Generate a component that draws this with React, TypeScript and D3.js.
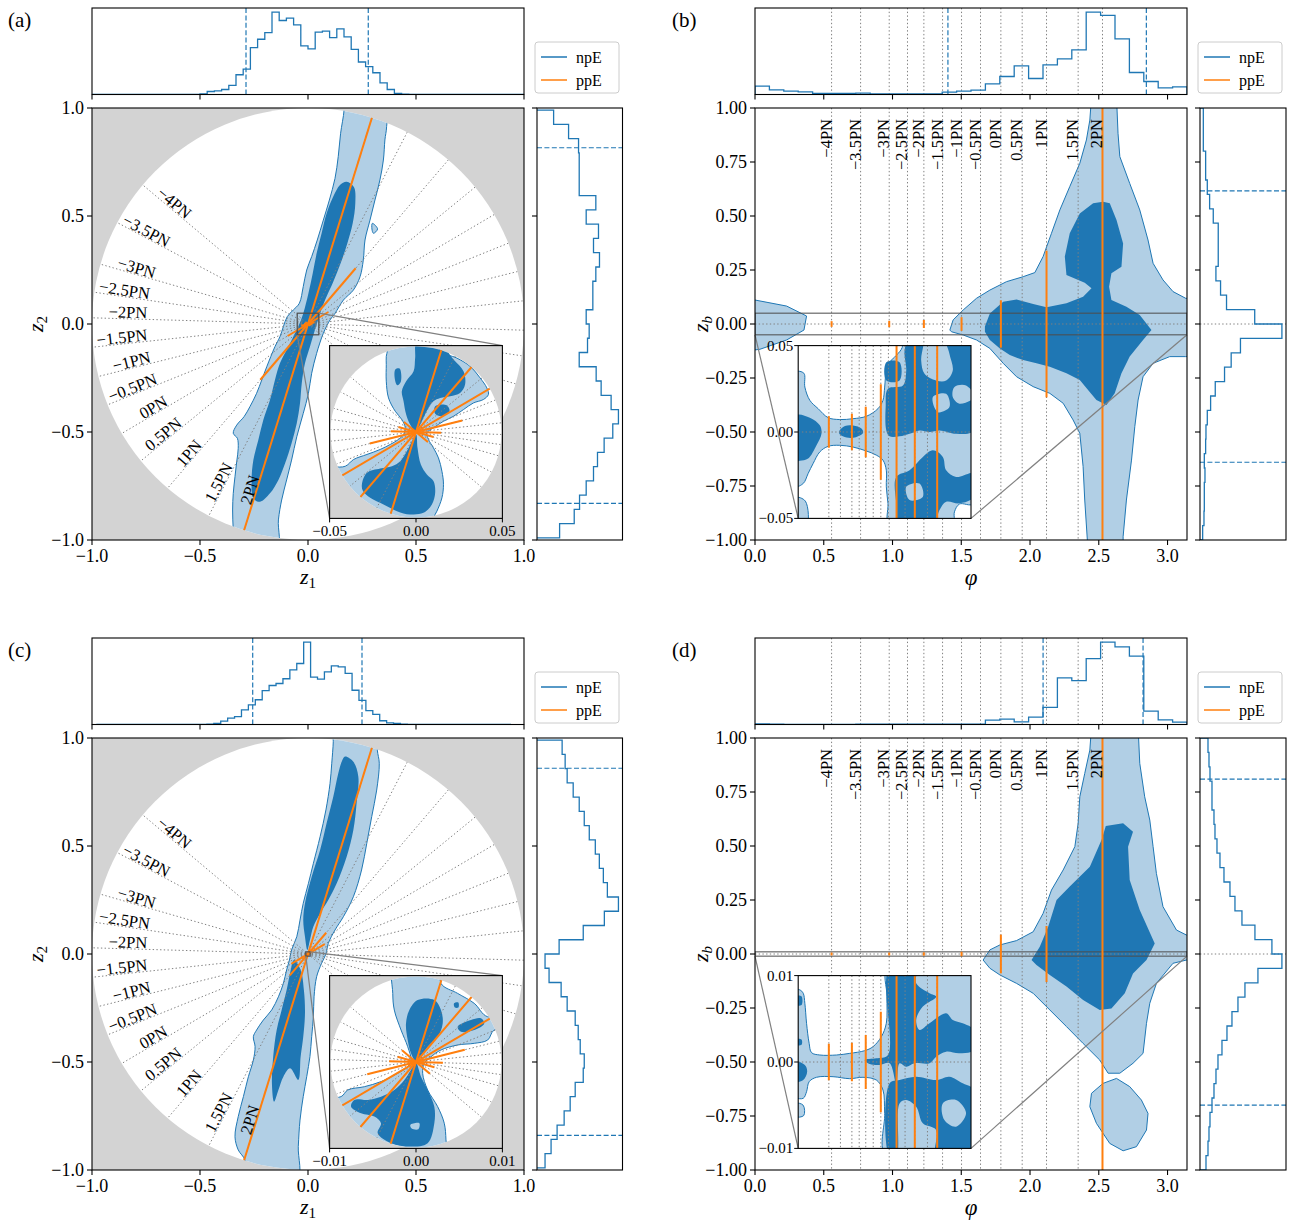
import React from "react";
import * as d3 from "d3";

const FONT = "'Liberation Serif','Times New Roman','DejaVu Serif',serif";
const BLUE = "#1f77b4";
const LIGHT_BLUE = "#b1cfe5";
const ORANGE = "#ff7f0e";
const GREY_BG = "#d3d3d3";
const DOTC = "#808080";
const DOTS = "1.4,2.3";
const TICK_FS = 18;
const PN_FS = 16.5;

// Post-Newtonian orders and their phase on the φ axis
const pnLabels = ["−4PN", "−3.5PN", "−3PN", "−2.5PN", "−2PN", "−1.5PN", "−1PN", "−0.5PN", "0PN", "0.5PN", "1PN", "1.5PN", "2PN"];
const pnPhi = [0.557, 0.768, 0.976, 1.109, 1.228, 1.364, 1.502, 1.64, 1.788, 1.943, 2.12, 2.35, 2.527];
// ppE deviations: integer orders and the half-width of each segment
const ppeOrders = [-4, -3, -2, -1, 0, 1, 2];
const ppeHalfTop = [0.0085, 0.01, 0.014, 0.027, 0.105, 0.335, 1.0];
const ppeHalfBottom = [0.002, 0.0021, 0.003, 0.0057, 0.085, 0.125, 1.0];
// rotation between φ and the polar angle in the (z1, z2) plane
const phaseOffset = 0.6 * Math.PI;

// marginal histograms (bin counts, arbitrary units)
const histAz1 = [0,0,0,0,0,0,0,0,0,0,0,0,0,0,0, 2,9,11,15,27,59,76,140,165,185,246,221,228,208,145,136,186,189,170,196,172,135,97,83,65,35,15,3,1, 0,0,0,0,0,0,0,0,0,0,0,0,0,0,0,0];
const rangeAz1 = [-1, 1];
const histAz2 = [68,112,128,148,170,182,202,228,245,223,193,178,127,152,157,148,168,168,177,188,170,185,148,177,127,127,127,125,95,50];
const rangeAz2 = [-0.99, 0.99];
const histBphi = [25,14,10,8,3,3,3,4,2,2,2,2,2,7,10,13,32,54,86,48,89,107,134,247,237,167,66,39,20,23];
const histBzb = [8,12,13,13,15,13,17,18,22,32,46,74,94,122,247,165,80,62,48,55,55,55,40,29,22,17,17,10,10,10];
const histCz1 = [0,0,0,0,0,0,0,0,0,0,0,0,0,0,0,0, 1,3,10,19,23,43,58,73,100,115,121,135,161,180,243,140,134,155,173,170,151,101,71,41,30,11,5,3,1, 0,0,0,0,0,0,0,0,0,0,0,0,0,0,0];
const rangeCz1 = [-0.98, 0.94];
const histCz2 = [8,14,20,27,33,38,46,47,43,41,38,30,24,12,8,22,46,67,81,70,66,62,58,52,47,42,36,30,28,25];
const rangeCz2 = [-0.99, 0.99];
const histDphi = [2,1,0,0,0,0,0,1,1,1,1,1,1,1,1,1,13,16,8,22,51,139,131,197,246,232,204,40,14,7];
const histDzb = [6,8,9,10,12,14,16,18,22,27,32,38,45,58,82,72,55,42,35,30,24,20,17,15,14,12,12,10,9,8];
const rangePhi = [0, Math.PI];
const rangeZb = [-1, 1];

// 90% credible intervals
const ciAz1 = [-0.287, 0.279];
const ciAz2 = [-0.83, 0.816];
const ciBphi = [1.403, 2.846];
const ciBzb = [-0.64, 0.616];
const ciCz1 = [-0.256, 0.25];
const ciCz2 = [-0.84, 0.86];
const ciDphi = [2.095, 2.822];
const ciDzb = [-0.7, 0.81];

// ---- (a) credible contours in the (z1, z2) plane ----
const contourA_outer = [[0.167,1.05],[0.167,0.99],[0.151,0.883],[0.14,0.775],[0.125,0.674],[0.099,0.574],[0.071,0.481],[0.043,0.389],[0.017,0.312],[-0.006,0.25],[-0.022,0.173],[-0.04,0.096],[-0.068,0.065],[-0.096,0.034],[-0.114,-0.012],[-0.13,-0.059],[-0.153,-0.105],[-0.191,-0.198],[-0.214,-0.259],[-0.238,-0.321],[-0.269,-0.383],[-0.296,-0.429],[-0.33,-0.468],[-0.346,-0.506],[-0.327,-0.529],[-0.323,-0.576],[-0.33,-0.637],[-0.338,-0.707],[-0.346,-0.784],[-0.349,-0.861],[-0.346,-0.954],[-0.34,-1.05],[-0.145,-1.05],[-0.137,-0.907],[-0.122,-0.815],[-0.099,-0.722],[-0.076,-0.63],[-0.052,-0.522],[-0.022,-0.414],[0.002,-0.321],[0.017,-0.228],[0.04,-0.136],[0.071,-0.043],[0.102,0.019],[0.125,0.049],[0.164,0.111],[0.21,0.157],[0.241,0.219],[0.256,0.296],[0.264,0.389],[0.287,0.481],[0.31,0.574],[0.333,0.667],[0.349,0.759],[0.356,0.852],[0.364,0.914],[0.36,1.05]];
const contourA_blob = [[0.298,0.466],[0.322,0.44],[0.303,0.42],[0.296,0.44]];
const contourA_inner = [[0.179,0.659],[0.213,0.633],[0.219,0.559],[0.207,0.466],[0.182,0.373],[0.151,0.281],[0.117,0.196],[0.079,0.111],[0.056,0.049],[0.032,-0.028],[0.009,-0.105],[-0.014,-0.182],[-0.029,-0.275],[-0.037,-0.367],[-0.052,-0.46],[-0.076,-0.552],[-0.106,-0.645],[-0.137,-0.722],[-0.176,-0.784],[-0.222,-0.823],[-0.253,-0.807],[-0.261,-0.722],[-0.253,-0.63],[-0.23,-0.537],[-0.207,-0.444],[-0.176,-0.352],[-0.153,-0.259],[-0.13,-0.182],[-0.099,-0.12],[-0.068,-0.059],[-0.045,-0.012],[-0.022,0.049],[0.002,0.142],[0.022,0.235],[0.04,0.327],[0.063,0.42],[0.086,0.512],[0.117,0.59],[0.148,0.644]];
// zoomed view of (a), coordinates in units of 1e-3
const insetA_outer = [[-17.2,43.8],[-16.5,47.1],[-16,56],[0,56],[14,52],[14,46.7],[23.6,42.8],[31.3,38],[37.1,31.3],[41,25.5],[41.9,21.7],[39,18.8],[33.2,16.8],[27.5,13],[21.7,9.1],[15.9,6.2],[10.1,2.4],[6.3,-0.5],[7.2,-4.3],[10.1,-9.2],[13,-15],[15,-22.7],[15.9,-30.3],[15,-38.1],[12.1,-45.8],[10.1,-49.7],[9,-56],[-56,-56],[-56,-22],[-40.9,-19.8],[-36.1,-15.9],[-28.4,-13],[-20.7,-10.1],[-14.9,-7.2],[-10.1,-4.3],[-7.2,-1.4],[-6.2,2.4],[-8.2,7.2],[-12,12],[-15.9,19.7],[-17.2,29.4],[-17.2,39]];
const insetA_inner1 = [[0.5,52],[13,52],[21.7,41.9],[27.5,35.1],[28.4,27.5],[25.5,22.6],[19.8,20.7],[14,19.7],[10.1,17.8],[7.2,13.9],[4.3,8.2],[1.4,2.4],[-0.5,0.5],[-3.4,4.3],[-5.7,10.1],[-7.2,17.8],[-8.2,23.6],[-5.7,29.4],[-1.4,35.1],[-0.5,42.8]];
const insetA_inner2 = [[11.1,14.9],[17.8,15.5],[19.4,12],[15,9.1],[11.1,10.5]];
const insetA_inner3 = [[-12,36.1],[-9.5,36.7],[-8.7,29.4],[-10.7,27],[-12,29.4]];
const insetA_inner4 = [[-31.3,-30.3],[-28.4,-23.6],[-20.7,-21.1],[-13.9,-19.8],[-9.1,-16.9],[-5.3,-11.1],[-1.8,-4.3],[0.1,-1.4],[0.9,-9.2],[2.8,-18.8],[6.3,-24.6],[10.1,-28.4],[11.1,-35.2],[9.2,-41.9],[4.3,-46.8],[-3.4,-47.7],[-11,-45.8],[-18.8,-41.9],[-26.5,-38.1],[-30.7,-34.2]];

// ---- (b) credible contours in the (φ, z_b) plane ----
const contourB_outer1 = [[-0.05,0.111],[0,0.111],[0.23,0.083],[0.375,0.037],[0.356,-0.028],[0.23,-0.074],[0.036,-0.117],[0,-0.12],[-0.05,-0.12]];
const contourB_outer2 = [[1.417,-0.028],[1.441,0.019],[1.514,0.065],[1.611,0.119],[1.708,0.157],[1.829,0.196],[1.95,0.219],[2.035,0.238],[2.095,0.312],[2.156,0.42],[2.217,0.528],[2.289,0.636],[2.362,0.744],[2.41,0.852],[2.435,0.944],[2.447,1.05],[2.629,1.05],[2.64,0.883],[2.653,0.775],[2.725,0.651],[2.798,0.528],[2.858,0.389],[2.895,0.281],[2.967,0.204],[3.04,0.15],[3.132,0.119],[3.2,0.119],[3.2,-0.151],[3.132,-0.151],[3.016,-0.151],[2.895,-0.182],[2.822,-0.244],[2.786,-0.352],[2.762,-0.475],[2.738,-0.63],[2.701,-0.815],[2.677,-0.985],[2.677,-1.05],[2.422,-1.05],[2.398,-0.815],[2.386,-0.66],[2.362,-0.506],[2.313,-0.444],[2.241,-0.367],[2.144,-0.321],[2.023,-0.29],[1.902,-0.244],[1.805,-0.182],[1.708,-0.113],[1.611,-0.074],[1.514,-0.051],[1.429,-0.036]];
const contourB_inner = [[1.672,-0.012],[1.708,0.049],[1.805,0.103],[1.902,0.114],[2.023,0.093],[2.12,0.077],[2.265,0.096],[2.386,0.126],[2.447,0.165],[2.398,0.191],[2.265,0.227],[2.253,0.312],[2.289,0.42],[2.362,0.512],[2.459,0.559],[2.531,0.566],[2.58,0.559],[2.629,0.481],[2.677,0.373],[2.665,0.265],[2.592,0.235],[2.575,0.173],[2.592,0.111],[2.701,0.08],[2.798,0.042],[2.883,-0.028],[2.822,-0.074],[2.725,-0.151],[2.665,-0.228],[2.616,-0.321],[2.556,-0.375],[2.483,-0.352],[2.422,-0.306],[2.362,-0.259],[2.265,-0.228],[2.144,-0.198],[2.047,-0.182],[1.95,-0.167],[1.853,-0.144],[1.781,-0.113],[1.708,-0.074],[1.672,-0.036]];
// zoomed view of (b), z_b in units of 1e-3
const insetB_outer1 = [[-0.05,34.6],[0.103,34],[0.121,26],[0.212,18.3],[0.363,13.5],[0.544,8.3],[0.756,7.2],[0.997,7.7],[1.24,9.1],[1.45,13.5],[1.541,18.3],[1.572,26],[1.602,35.6],[1.662,40.4],[1.783,44.3],[1.892,49],[1.892,55],[3.2,55],[3.2,-41.3],[2.931,-41.7],[2.841,-46.2],[2.81,-55],[1.662,-55],[1.632,-41.3],[1.602,-31.7],[1.602,-22.1],[1.541,-16.3],[1.421,-13.4],[1.24,-11],[0.997,-8.7],[0.756,-7.7],[0.544,-8.3],[0.393,-11.5],[0.272,-18.2],[0.181,-24],[0.091,-29.8],[-0.05,-31.3]];
const insetB_outer2 = [[-0.05,-38],[0.13,-40],[0.15,-55],[-0.05,-55]];
const insetB_inner1 = [[-0.05,9.6],[0.212,8.3],[0.393,3.9],[0.424,-0.9],[0.333,-7.7],[0.181,-15.4],[0.031,-16.7],[-0.05,-16.7]];
const insetB_inner2 = [[0.744,0.3],[0.85,3.5],[1.0,3.8],[1.15,2.0],[1.18,-0.5],[1.05,-3.0],[0.88,-3.2],[0.76,-1.5]];
const insetB_inner3 = [[1.602,40.4],[1.843,40.4],[1.843,29.8],[1.602,29.8]];
const insetB_inner4 = [[1.632,25],[1.904,26.9],[1.964,35.6],[1.934,47.1],[2.025,55],[2.267,55],[2.236,41.4],[2.297,33.7],[2.508,29.8],[2.69,29.8],[2.81,35.6],[2.75,45.2],[2.69,55],[3.2,55],[3.2,0.9],[2.871,-1],[2.569,0.9],[2.387,0],[2.206,0.9],[2.025,-1],[1.843,-2.5],[1.662,-2.5],[1.602,0.9],[1.59,14.4]];
const insetB_inner5 = [[1.783,-26],[2.025,-22.1],[2.267,-14.4],[2.448,-10.6],[2.629,-14.4],[2.69,-22.1],[2.871,-26],[3.2,-24],[3.2,-37.5],[2.931,-41.3],[2.69,-40.4],[2.569,-45.2],[2.448,-55],[1.843,-55],[1.783,-41.3]];
const insetB_gap1 = [[2.841,26],[3.052,26.9],[3.2,20.2],[2.931,16.4],[2.81,20.2]];
const insetB_gap2 = [[2.448,20.2],[2.69,22.1],[2.75,14.4],[2.538,11.5]];
const insetB_gap3 = [[1.964,-31.7],[2.206,-29.8],[2.267,-37.5],[2.025,-39.4]];

// ---- (c) credible contours in the (z1, z2) plane ----
const contourC_outer = [[0.117,1.05],[0.117,0.983],[0.11,0.883],[0.102,0.79],[0.083,0.667],[0.056,0.543],[0.025,0.42],[0.002,0.327],[-0.022,0.235],[-0.037,0.157],[-0.052,0.08],[-0.076,0.019],[-0.086,-0.028],[-0.099,-0.074],[-0.114,-0.136],[-0.137,-0.198],[-0.168,-0.259],[-0.207,-0.306],[-0.238,-0.352],[-0.253,-0.383],[-0.245,-0.429],[-0.253,-0.491],[-0.276,-0.568],[-0.299,-0.66],[-0.323,-0.753],[-0.338,-0.846],[-0.323,-0.907],[-0.292,-0.954],[-0.29,-1.05],[-0.052,-1.05],[-0.045,-0.892],[-0.037,-0.769],[-0.022,-0.66],[-0.006,-0.568],[0.009,-0.475],[0.017,-0.383],[0.025,-0.29],[0.028,-0.198],[0.04,-0.105],[0.063,-0.043],[0.083,0],[0.094,0.049],[0.125,0.111],[0.164,0.173],[0.21,0.265],[0.248,0.389],[0.272,0.512],[0.295,0.636],[0.318,0.759],[0.33,0.883],[0.321,0.944],[0.32,1.05]];
const contourC_inner1 = [[0.171,0.914],[0.21,0.89],[0.233,0.821],[0.225,0.698],[0.21,0.574],[0.179,0.45],[0.133,0.327],[0.094,0.25],[0.056,0.188],[0.025,0.127],[0.009,0.065],[-0.003,0.019],[-0.014,0.08],[-0.022,0.157],[-0.014,0.235],[0.017,0.358],[0.056,0.481],[0.086,0.605],[0.117,0.728],[0.14,0.836],[0.156,0.89]];
const contourC_inner2 = [[-0.065,-0.028],[-0.034,-0.074],[-0.019,-0.167],[-0.014,-0.275],[-0.022,-0.383],[-0.034,-0.475],[-0.045,-0.583],[-0.083,-0.529],[-0.114,-0.568],[-0.137,-0.63],[-0.157,-0.684],[-0.167,-0.599],[-0.161,-0.475],[-0.145,-0.352],[-0.122,-0.259],[-0.099,-0.167],[-0.083,-0.089]];
// zoomed view of (c), coordinates in units of 1e-3
const insetC_outer = [[-2.5,12],[-2.69,7.94],[-2.51,6.01],[-1.73,3.7],[-0.96,1.77],[-0.58,0.23],[-0.96,-0.54],[-2.12,-1.31],[-4.05,-2.27],[-5.98,-2.86],[-7.9,-3.24],[-8.67,-4.01],[-12,-4.5],[-12,-12],[3.5,-12],[3.47,-9.02],[3.27,-7.09],[2.51,-5.17],[1.35,-3.24],[0.77,-1.31],[0.96,-0.15],[1.73,0.61],[2.89,1.39],[4.82,1.97],[6.74,2.16],[8.29,2.54],[9.05,3.7],[12,4],[12,6],[8.29,5.24],[6.74,6.79],[4.82,7.94],[2.89,9.1],[3,12]];
const insetC_inner1 = [[0.19,7.17],[2.12,7.17],[2.89,6.01],[3.09,4.47],[2.51,2.92],[1.35,1.77],[0.58,0.61],[0,0.04],[-0.58,1.0],[-0.96,2.54],[-1.16,4.47],[-0.77,6.01]];
const insetC_inner2 = [[4.82,4.08],[6.36,4.86],[7.51,5.05],[7.9,4.47],[6.74,3.7],[5.2,3.5]];
const insetC_inner3 = [[4.4,6.8],[4.9,6.9],[4.9,6.3],[4.5,6.3]];
const insetC_inner4 = [[0,-0.15],[0.58,-1.7],[1.35,-3.24],[2.12,-5.17],[2.12,-7.09],[1.35,-9.4],[-0.58,-9.79],[-2.89,-9.4],[-4.43,-8.24],[-4.05,-7.09],[-4.82,-6.32],[-6.36,-5.93],[-7.51,-5.17],[-7.13,-4.39],[-5.58,-4.39],[-4.05,-4.01],[-2.51,-3.24],[-1.35,-2.08],[-0.58,-0.92]];
const insetC_gap1 = [[-0.66,-7.28],[0.39,-7.09],[0.27,-7.78],[-0.5,-7.7]];

// ---- (d) credible contours in the (φ, z_b) plane ----
const contourD_outer1 = [[1.659,-0.028],[1.708,0.019],[1.781,0.042],[1.902,0.062],[2.023,0.103],[2.095,0.188],[2.156,0.296],[2.241,0.389],[2.326,0.497],[2.35,0.605],[2.362,0.728],[2.398,0.836],[2.435,0.944],[2.447,1.05],[2.786,1.05],[2.798,0.883],[2.834,0.728],[2.871,0.62],[2.895,0.497],[2.919,0.373],[2.967,0.219],[3.065,0.111],[3.137,0.088],[3.2,0.088],[3.2,-0.028],[3.137,-0.028],[3.04,-0.043],[2.919,-0.136],[2.871,-0.228],[2.847,-0.321],[2.822,-0.46],[2.749,-0.506],[2.653,-0.552],[2.568,-0.552],[2.507,-0.491],[2.386,-0.414],[2.265,-0.336],[2.144,-0.259],[2.023,-0.182],[1.902,-0.136],[1.781,-0.097],[1.708,-0.066]];
const contourD_outer2 = [[2.531,-0.599],[2.629,-0.576],[2.725,-0.614],[2.81,-0.676],[2.858,-0.738],[2.847,-0.815],[2.774,-0.892],[2.677,-0.911],[2.58,-0.877],[2.483,-0.784],[2.435,-0.707],[2.447,-0.645]];
const contourD_inner = [[2.011,-0.028],[2.071,0.034],[2.132,0.126],[2.193,0.25],[2.289,0.312],[2.435,0.404],[2.52,0.528],[2.551,0.593],[2.677,0.605],[2.749,0.566],[2.713,0.497],[2.725,0.343],[2.798,0.204],[2.907,0.049],[2.847,-0.028],[2.749,-0.09],[2.689,-0.182],[2.592,-0.252],[2.507,-0.259],[2.386,-0.213],[2.265,-0.151],[2.144,-0.097],[2.047,-0.051]];
// zoomed view of (d), z_b in units of 1e-3
const insetD_outer1 = [[1.632,11],[1.614,7.57],[1.602,4.48],[1.512,2.93],[1.36,1.77],[1.209,1.31],[0.937,1.0],[0.696,0.81],[0.393,0.81],[0.243,1.08],[0.199,2.16],[0.152,4.48],[0.121,6.8],[0.091,7.96],[0.031,8.34],[-0.05,8.34],[-0.05,-4.01],[0.091,-4.2],[0.152,-3.44],[0.199,-2.28],[0.333,-1.77],[0.634,-1.7],[0.937,-1.93],[1.178,-1.77],[1.421,-2.09],[1.541,-3.24],[1.572,-5.94],[1.602,-11],[3.2,-11],[3.2,11]];
const insetD_outer2 = [[-0.05,-4.8],[0.09,-5.0],[0.1,-6.2],[-0.05,-6.3]];
const insetD_inner1 = [[-0.05,0.04],[0.121,-0.35],[0.163,-1.12],[0.091,-2.09],[-0.05,-2.28]];
const insetD_inner2 = [[-0.05,7.6],[0.06,7.6],[0.06,6.6],[-0.05,6.6]];
const insetD_inner3 = [[-0.05,2.6],[0.06,2.6],[0.06,2.0],[-0.05,2.0]];
const insetD_inner4 = [[1.209,0.23],[1.421,0.42],[1.632,0.81],[1.662,11],[2.145,11],[2.145,9.11],[2.387,7.96],[2.508,7.57],[2.266,6.41],[2.145,4.87],[2.206,3.71],[2.387,4.48],[2.689,5.64],[2.81,4.87],[2.991,4.48],[3.2,3.71],[3.2,1.39],[2.931,1.0],[2.689,1.2],[2.508,0.62],[2.387,-0.15],[2.115,-0.15],[1.964,-0.54],[1.843,-0.15],[1.783,-2.47],[1.662,-0.15],[1.481,-0.35],[1.3,-0.23]];
const insetD_inner5 = [[2.145,-1.7],[2.508,-2.09],[2.749,-1.7],[2.991,-2.47],[3.2,-3.24],[3.2,-11],[2.508,-11],[2.508,-7.87],[2.266,-7.1],[2.145,-5.17],[1.964,-4.4],[1.843,-4.79],[1.783,-11],[1.662,-11],[1.662,-2.47],[1.843,-2.09]];
const insetD_gap1 = [[2.628,-4.79],[2.87,-4.4],[3.052,-5.94],[2.87,-7.48],[2.658,-6.71]];

const axisTicksZ = [-1, -0.5, 0, 0.5, 1];
const axisTicksPhi = [0, 0.5, 1, 1.5, 2, 2.5, 3];
const axisTicksZb = [-1, -0.75, -0.5, -0.25, 0, 0.25, 0.5, 0.75, 1];

const fmt = (v, p) => d3.format(`.${p}f`)(v).replace("-", "−");

function closed(pts, sx, sy, smooth) {
  const gen = d3.line().x((d) => sx(d[0])).y((d) => sy(d[1]))
    .curve(smooth ? d3.curveCatmullRomClosed.alpha(0.5) : d3.curveLinearClosed);
  return gen(pts) || "";
}

function Frame({ x0, x1, y0, y1 }) {
  return <rect x={x0} y={y0} width={x1 - x0} height={y1 - y0} fill="none" stroke="#000" strokeWidth={1.1} />;
}

function TopHist({ x0, x1, y0, y1, values, range, ci, ticks, domainX, pnLines, clipId }) {
  const sx = d3.scaleLinear().domain(domainX).range([x0, x1]);
  const sy = d3.scaleLinear().domain([0, d3.max(values) * 1.05]).range([y1, y0]);
  const n = values.length;
  const w = (range[1] - range[0]) / n;
  const pts = [[range[0], 0]];
  values.forEach((v, i) => pts.push([range[0] + i * w, v]));
  pts.push([range[1], values[n - 1]]);
  pts.push([range[1], 0]);
  const path = d3.line().x((d) => sx(d[0])).y((d) => sy(d[1])).curve(d3.curveStepAfter)(pts);
  return (
    <g>
      <clipPath id={clipId}><rect x={x0} y={y0} width={x1 - x0} height={y1 - y0} /></clipPath>
      <g clipPath={`url(#${clipId})`}>
        {pnLines && pnLines.map((p, i) => (
          <line key={i} x1={sx(p)} x2={sx(p)} y1={y0} y2={y1} stroke={DOTC} strokeWidth={1} strokeDasharray={DOTS} />
        ))}
        <path d={path} fill="none" stroke={BLUE} strokeWidth={1.3} />
        {ci.map((c, i) => (
          <line key={i} x1={sx(c)} x2={sx(c)} y1={y0} y2={y1} stroke={BLUE} strokeWidth={1.2} strokeDasharray="5,2.4" />
        ))}
      </g>
      {ticks.map((t, i) => (
        <line key={i} x1={sx(t)} x2={sx(t)} y1={y1} y2={y1 + 5} stroke="#000" strokeWidth={1.1} />
      ))}
      <Frame x0={x0} x1={x1} y0={y0} y1={y1} />
    </g>
  );
}

function RightHist({ x0, x1, y0, y1, values, range, ci, ticks, zeroLine, clipId }) {
  const sx = d3.scaleLinear().domain([0, d3.max(values) * 1.05]).range([x0, x1]);
  const sy = d3.scaleLinear().domain([-1, 1]).range([y1, y0]);
  const n = values.length;
  const w = (range[1] - range[0]) / n;
  const pts = [[0, range[0]]];
  values.forEach((v, i) => pts.push([v, range[0] + i * w]));
  pts.push([values[n - 1], range[1]]);
  pts.push([0, range[1]]);
  const path = d3.line().x((d) => sx(d[0])).y((d) => sy(d[1])).curve(d3.curveStepBefore)(pts);
  return (
    <g>
      <clipPath id={clipId}><rect x={x0} y={y0} width={x1 - x0} height={y1 - y0} /></clipPath>
      <g clipPath={`url(#${clipId})`}>
        {zeroLine && <line x1={x0} x2={x1} y1={sy(0)} y2={sy(0)} stroke={DOTC} strokeWidth={1} strokeDasharray={DOTS} />}
        <path d={path} fill="none" stroke={BLUE} strokeWidth={1.3} />
        {ci.map((c, i) => (
          <line key={i} x1={x0} x2={x1} y1={sy(c)} y2={sy(c)} stroke={BLUE} strokeWidth={1.2} strokeDasharray="5,2.4" />
        ))}
      </g>
      {ticks.map((t, i) => (
        <line key={i} x1={x0 - 5} x2={x0} y1={sy(t)} y2={sy(t)} stroke="#000" strokeWidth={1.1} />
      ))}
      <Frame x0={x0} x1={x1} y0={y0} y1={y1} />
    </g>
  );
}

function Legend({ x, y }) {
  return (
    <g>
      <rect x={x} y={y} width={84} height={51} rx={3} fill="#fff" fillOpacity={0.8} stroke="#cccccc" strokeWidth={1} />
      <line x1={x + 6} x2={x + 32} y1={y + 15} y2={y + 15} stroke={BLUE} strokeWidth={1.5} />
      <text x={x + 41} y={y + 20.5} fontSize={16}>npE</text>
      <line x1={x + 6} x2={x + 32} y1={y + 38} y2={y + 38} stroke={ORANGE} strokeWidth={1.5} />
      <text x={x + 41} y={y + 43.5} fontSize={16}>ppE</text>
    </g>
  );
}

function PolarMain({ oy, tag, outer, blobs, inners, insetOuter, insetInners, insetGaps, insetHalf, insetR, ppeHalf }) {
  const x0 = 92, x1 = 524, y0 = 108 + oy, y1 = 540 + oy;
  const sx = d3.scaleLinear().domain([-1, 1]).range([x0, x1]);
  const sy = d3.scaleLinear().domain([-1, 1]).range([y1, y0]);
  const R = sx(1) - sx(0);
  const L = x1 - x0;
  const ix0 = x0 + 0.55 * L, ix1 = x0 + 0.95 * L, iy0 = y0 + 0.55 * L, iy1 = y0 + 0.95 * L;
  const m = insetHalf * 1000;
  const isx = d3.scaleLinear().domain([-m, m]).range([ix0, ix1]);
  const isy = d3.scaleLinear().domain([-m, m]).range([iy1, iy0]);
  const iR = isx(insetR) - isx(0);
  const ang = pnPhi.map((p) => p + phaseOffset);
  const cid = `circ-${tag}`, icid = `icirc-${tag}`;
  return (
    <g>
      <clipPath id={cid}><circle cx={sx(0)} cy={sy(0)} r={R} /></clipPath>
      <clipPath id={icid}><circle cx={isx(0)} cy={isy(0)} r={iR} /></clipPath>
      <rect x={x0} y={y0} width={L} height={L} fill={GREY_BG} />
      <circle cx={sx(0)} cy={sy(0)} r={R} fill="#fff" />
      <g clipPath={`url(#${cid})`}>
        <path d={closed(outer, sx, sy, true)} fill={LIGHT_BLUE} stroke={BLUE} strokeWidth={1} />
        {blobs.map((b, i) => <path key={i} d={closed(b, sx, sy, true)} fill={LIGHT_BLUE} stroke={BLUE} strokeWidth={1} />)}
        {inners.map((b, i) => <path key={i} d={closed(b, sx, sy, true)} fill={BLUE} />)}
        {ang.map((a, i) => (
          <line key={i} x1={sx(-Math.cos(a))} y1={sy(-Math.sin(a))} x2={sx(Math.cos(a))} y2={sy(Math.sin(a))}
            stroke={DOTC} strokeWidth={1} strokeDasharray={DOTS} />
        ))}
        {ppeOrders.map((k, i) => {
          const a = ang[(k + 4) * 2], h = ppeHalf[i];
          return <line key={i} x1={sx(-h * Math.cos(a))} y1={sy(-h * Math.sin(a))} x2={sx(h * Math.cos(a))} y2={sy(h * Math.sin(a))}
            stroke={ORANGE} strokeWidth={2} strokeLinecap="square" />;
        })}
      </g>
      {pnLabels.map((lab, i) => {
        const a = ang[i], r = 0.745;
        const px = sx(r * Math.cos(a)), py = sy(r * Math.sin(a));
        const rot = 180 - (a * 180) / Math.PI;
        return (
          <text key={i} transform={`translate(${px},${py}) rotate(${rot})`} textAnchor="end" dy={-1} fontSize={PN_FS}>{lab}</text>
        );
      })}
      {/* zoom indicator */}
      <rect x={sx(-insetHalf)} y={sy(insetHalf)} width={sx(insetHalf) - sx(-insetHalf)} height={sy(-insetHalf) - sy(insetHalf)}
        fill="none" stroke="#4d4d4d" strokeWidth={1.2} />
      <line x1={sx(insetHalf)} y1={sy(insetHalf)} x2={ix1} y2={iy0} stroke="#808080" strokeWidth={1.2} />
      <line x1={sx(-insetHalf)} y1={sy(-insetHalf)} x2={ix0} y2={iy1} stroke="#808080" strokeWidth={1.2} />
      {/* inset */}
      <rect x={ix0} y={iy0} width={ix1 - ix0} height={iy1 - iy0} fill={GREY_BG} />
      <circle cx={isx(0)} cy={isy(0)} r={iR} fill="#fff" />
      <g clipPath={`url(#${icid})`}>
        <path d={closed(insetOuter, isx, isy, true)} fill={LIGHT_BLUE} stroke={BLUE} strokeWidth={1} />
        {insetInners.map((b, i) => <path key={i} d={closed(b, isx, isy, true)} fill={BLUE} />)}
        {insetGaps.map((b, i) => <path key={i} d={closed(b, isx, isy, true)} fill={LIGHT_BLUE} />)}
        {ang.map((a, i) => (
          <line key={i} x1={isx(-insetR * Math.cos(a))} y1={isy(-insetR * Math.sin(a))} x2={isx(insetR * Math.cos(a))} y2={isy(insetR * Math.sin(a))}
            stroke={DOTC} strokeWidth={1} strokeDasharray={DOTS} />
        ))}
        {ppeOrders.map((k, i) => {
          const a = ang[(k + 4) * 2], h = Math.min(ppeHalf[i] * 1000, insetR * 1.2);
          return <line key={i} x1={isx(-h * Math.cos(a))} y1={isy(-h * Math.sin(a))} x2={isx(h * Math.cos(a))} y2={isy(h * Math.sin(a))}
            stroke={ORANGE} strokeWidth={2} strokeLinecap="square" />;
        })}
      </g>
      <Frame x0={ix0} x1={ix1} y0={iy0} y1={iy1} />
      {[-insetHalf, 0, insetHalf].map((t, i) => (
        <g key={i}>
          <line x1={isx(t * 1000)} x2={isx(t * 1000)} y1={iy1} y2={iy1 + 4} stroke="#000" strokeWidth={1} />
          <text x={isx(t * 1000)} y={iy1 + 18} fontSize={15} textAnchor="middle">{fmt(t, 2)}</text>
        </g>
      ))}
      {/* main axes */}
      <Frame x0={x0} x1={x1} y0={y0} y1={y1} />
      {axisTicksZ.map((t, i) => (
        <g key={i}>
          <line x1={sx(t)} x2={sx(t)} y1={y1} y2={y1 + 5} stroke="#000" strokeWidth={1.1} />
          <text x={sx(t)} y={y1 + 22} fontSize={TICK_FS} textAnchor="middle">{fmt(t, 1)}</text>
          <line x1={x0 - 5} x2={x0} y1={sy(t)} y2={sy(t)} stroke="#000" strokeWidth={1.1} />
          <text x={x0 - 8} y={sy(t) + 6} fontSize={TICK_FS} textAnchor="end">{fmt(t, 1)}</text>
        </g>
      ))}
      <text x={sx(0)} y={y1 + 44} fontSize={22} textAnchor="middle">
        <tspan fontStyle="italic">z</tspan><tspan fontSize={15} dy={4}>1</tspan>
      </text>
      <text transform={`translate(43,${sy(0)}) rotate(-90)`} fontSize={22} textAnchor="middle">
        <tspan fontStyle="italic">z</tspan><tspan fontSize={15} dy={4}>2</tspan>
      </text>
    </g>
  );
}

function PhiMain({ oy, tag, outers, inners, insetOuters, insetInners, insetGaps, insetHalf, ppeHalf }) {
  const x0 = 755, x1 = 1187, y0 = 108 + oy, y1 = 540 + oy;
  const sx = d3.scaleLinear().domain([0, Math.PI]).range([x0, x1]);
  const sy = d3.scaleLinear().domain([-1, 1]).range([y1, y0]);
  const L = x1 - x0, Hh = y1 - y0;
  const ix0 = x0 + 0.1 * L, ix1 = x0 + 0.5 * L, iy0 = y0 + 0.55 * Hh, iy1 = y0 + 0.95 * Hh;
  const m = insetHalf * 1000;
  const isx = d3.scaleLinear().domain([0, Math.PI]).range([ix0, ix1]);
  const isy = d3.scaleLinear().domain([-m, m]).range([iy1, iy0]);
  const cid = `ax-${tag}`, icid = `iax-${tag}`;
  return (
    <g>
      <clipPath id={cid}><rect x={x0} y={y0} width={L} height={Hh} /></clipPath>
      <clipPath id={icid}><rect x={ix0} y={iy0} width={ix1 - ix0} height={iy1 - iy0} /></clipPath>
      <rect x={x0} y={y0} width={L} height={Hh} fill="#fff" />
      <g clipPath={`url(#${cid})`}>
        {outers.map((b, i) => <path key={i} d={closed(b, sx, sy, false)} fill={LIGHT_BLUE} stroke={BLUE} strokeWidth={1} />)}
        {inners.map((b, i) => <path key={i} d={closed(b, sx, sy, false)} fill={BLUE} />)}
        {pnPhi.map((p, i) => (
          <line key={i} x1={sx(p)} x2={sx(p)} y1={y0} y2={y1} stroke={DOTC} strokeWidth={1} strokeDasharray={DOTS} />
        ))}
        <line x1={x0} x2={x1} y1={sy(0)} y2={sy(0)} stroke={DOTC} strokeWidth={1} strokeDasharray={DOTS} />
        <rect x={sx(0)} y={sy(insetHalf)} width={L} height={sy(-insetHalf) - sy(insetHalf)} fill="none" stroke="#4d4d4d" strokeWidth={1.2} strokeOpacity={0.85} />
        {ppeOrders.map((k, i) => {
          const p = pnPhi[(k + 4) * 2], h = ppeHalf[i];
          return <line key={i} x1={sx(p)} x2={sx(p)} y1={sy(h)} y2={sy(-h)} stroke={ORANGE} strokeWidth={2} strokeLinecap="square" />;
        })}
      </g>
      <line x1={sx(0)} y1={sy(-insetHalf)} x2={ix0} y2={iy1} stroke="#808080" strokeWidth={1.2} />
      <line x1={sx(Math.PI)} y1={sy(-insetHalf)} x2={ix1} y2={iy1} stroke="#808080" strokeWidth={1.2} />
      {/* inset */}
      <rect x={ix0} y={iy0} width={ix1 - ix0} height={iy1 - iy0} fill="#fff" />
      <g clipPath={`url(#${icid})`}>
        {insetOuters.map((b, i) => <path key={i} d={closed(b, isx, isy, true)} fill={LIGHT_BLUE} stroke={BLUE} strokeWidth={1} />)}
        {insetInners.map((b, i) => <path key={i} d={closed(b, isx, isy, true)} fill={BLUE} />)}
        {insetGaps.map((b, i) => <path key={i} d={closed(b, isx, isy, true)} fill={LIGHT_BLUE} />)}
        {pnPhi.map((p, i) => (
          <line key={i} x1={isx(p)} x2={isx(p)} y1={iy0} y2={iy1} stroke={DOTC} strokeWidth={1} strokeDasharray={DOTS} />
        ))}
        <line x1={ix0} x2={ix1} y1={isy(0)} y2={isy(0)} stroke={DOTC} strokeWidth={1} strokeDasharray={DOTS} />
        {ppeOrders.map((k, i) => {
          const p = pnPhi[(k + 4) * 2], h = Math.min(ppeHalf[i] * 1000, m * 1.2);
          return <line key={i} x1={isx(p)} x2={isx(p)} y1={isy(h)} y2={isy(-h)} stroke={ORANGE} strokeWidth={2} strokeLinecap="square" />;
        })}
      </g>
      <Frame x0={ix0} x1={ix1} y0={iy0} y1={iy1} />
      {[-insetHalf, 0, insetHalf].map((t, i) => (
        <g key={i}>
          <line x1={ix0 - 4} x2={ix0} y1={isy(t * 1000)} y2={isy(t * 1000)} stroke="#000" strokeWidth={1} />
          <text x={ix0 - 5} y={isy(t * 1000) + 5} fontSize={15} textAnchor="end">{fmt(t, 2)}</text>
        </g>
      ))}
      {pnLabels.map((lab, i) => (
        <text key={i} transform={`translate(${sx(pnPhi[i])},${y0 + 11}) rotate(-90)`} textAnchor="end" fontSize={PN_FS}>{lab}</text>
      ))}
      <Frame x0={x0} x1={x1} y0={y0} y1={y1} />
      {axisTicksPhi.map((t, i) => (
        <g key={i}>
          <line x1={sx(t)} x2={sx(t)} y1={y1} y2={y1 + 5} stroke="#000" strokeWidth={1.1} />
          <text x={sx(t)} y={y1 + 22} fontSize={TICK_FS} textAnchor="middle">{fmt(t, 1)}</text>
        </g>
      ))}
      {axisTicksZb.map((t, i) => (
        <g key={i}>
          <line x1={x0 - 5} x2={x0} y1={sy(t)} y2={sy(t)} stroke="#000" strokeWidth={1.1} />
          <text x={x0 - 8} y={sy(t) + 6} fontSize={TICK_FS} textAnchor="end">{fmt(t, 2)}</text>
        </g>
      ))}
      <text x={sx(Math.PI / 2)} y={y1 + 45} fontSize={23} fontStyle="italic" textAnchor="middle">φ</text>
      <text transform={`translate(708,${sy(0)}) rotate(-90)`} fontSize={22} textAnchor="middle">
        <tspan fontStyle="italic">z</tspan><tspan fontSize={15} fontStyle="italic" dy={4}>b</tspan>
      </text>
    </g>
  );
}

function PolarBlock({ oy, tag, letter, hz1, rz1, ciz1, hz2, rz2, ciz2, ...rest }) {
  return (
    <g>
      <text x={8} y={oy + 27} fontSize={21}>{letter}</text>
      <TopHist x0={92} x1={524} y0={oy + 8} y1={oy + 94.5} values={hz1} range={rz1} ci={ciz1} ticks={axisTicksZ} domainX={[-1, 1]} clipId={`th-${tag}`} />
      <RightHist x0={537} x1={622.5} y0={oy + 108} y1={oy + 540} values={hz2} range={rz2} ci={ciz2} ticks={axisTicksZ} clipId={`rh-${tag}`} />
      <Legend x={535} y={oy + 42} />
      <PolarMain oy={oy} tag={tag} {...rest} />
    </g>
  );
}

function PhiBlock({ oy, tag, letter, hphi, ciphi, hzb, cizb, ...rest }) {
  return (
    <g>
      <text x={672} y={oy + 27} fontSize={21}>{letter}</text>
      <TopHist x0={755} x1={1187} y0={oy + 8} y1={oy + 94.5} values={hphi} range={rangePhi} ci={ciphi} ticks={axisTicksPhi} domainX={[0, Math.PI]} pnLines={pnPhi} clipId={`th-${tag}`} />
      <RightHist x0={1200} x1={1286} y0={oy + 108} y1={oy + 540} values={hzb} range={rangeZb} ci={cizb} ticks={axisTicksZb} zeroLine clipId={`rh-${tag}`} />
      <Legend x={1198} y={oy + 42} />
      <PhiMain oy={oy} tag={tag} {...rest} />
    </g>
  );
}

export default function App() {
  return (
    <svg width={1294} height={1224} style={{ position: "absolute", left: 0, top: 0 }} fontFamily={FONT}>
      <rect width={1294} height={1224} fill="#fff" />
      <PolarBlock oy={0} tag="a" letter="(a)" hz1={histAz1} rz1={rangeAz1} ciz1={ciAz1} hz2={histAz2} rz2={rangeAz2} ciz2={ciAz2}
        outer={contourA_outer} blobs={[contourA_blob]} inners={[contourA_inner]}
        insetOuter={insetA_outer} insetInners={[insetA_inner1, insetA_inner2, insetA_inner3, insetA_inner4]} insetGaps={[]}
        insetHalf={0.05} insetR={49.5} ppeHalf={ppeHalfTop} />
      <PhiBlock oy={0} tag="b" letter="(b)" hphi={histBphi} ciphi={ciBphi} hzb={histBzb} cizb={ciBzb}
        outers={[contourB_outer1, contourB_outer2]} inners={[contourB_inner]}
        insetOuters={[insetB_outer1, insetB_outer2]} insetInners={[insetB_inner1, insetB_inner2, insetB_inner3, insetB_inner4, insetB_inner5]}
        insetGaps={[insetB_gap1, insetB_gap2, insetB_gap3]} insetHalf={0.05} ppeHalf={ppeHalfTop} />
      <PolarBlock oy={630} tag="c" letter="(c)" hz1={histCz1} rz1={rangeCz1} ciz1={ciCz1} hz2={histCz2} rz2={rangeCz2} ciz2={ciCz2}
        outer={contourC_outer} blobs={[]} inners={[contourC_inner1, contourC_inner2]}
        insetOuter={insetC_outer} insetInners={[insetC_inner1, insetC_inner2, insetC_inner3, insetC_inner4]} insetGaps={[insetC_gap1]}
        insetHalf={0.01} insetR={9.9} ppeHalf={ppeHalfBottom} />
      <PhiBlock oy={630} tag="d" letter="(d)" hphi={histDphi} ciphi={ciDphi} hzb={histDzb} cizb={ciDzb}
        outers={[contourD_outer1, contourD_outer2]} inners={[contourD_inner]}
        insetOuters={[insetD_outer1, insetD_outer2]} insetInners={[insetD_inner1, insetD_inner2, insetD_inner3, insetD_inner4, insetD_inner5]}
        insetGaps={[insetD_gap1]} insetHalf={0.01} ppeHalf={ppeHalfBottom} />
    </svg>
  );
}
